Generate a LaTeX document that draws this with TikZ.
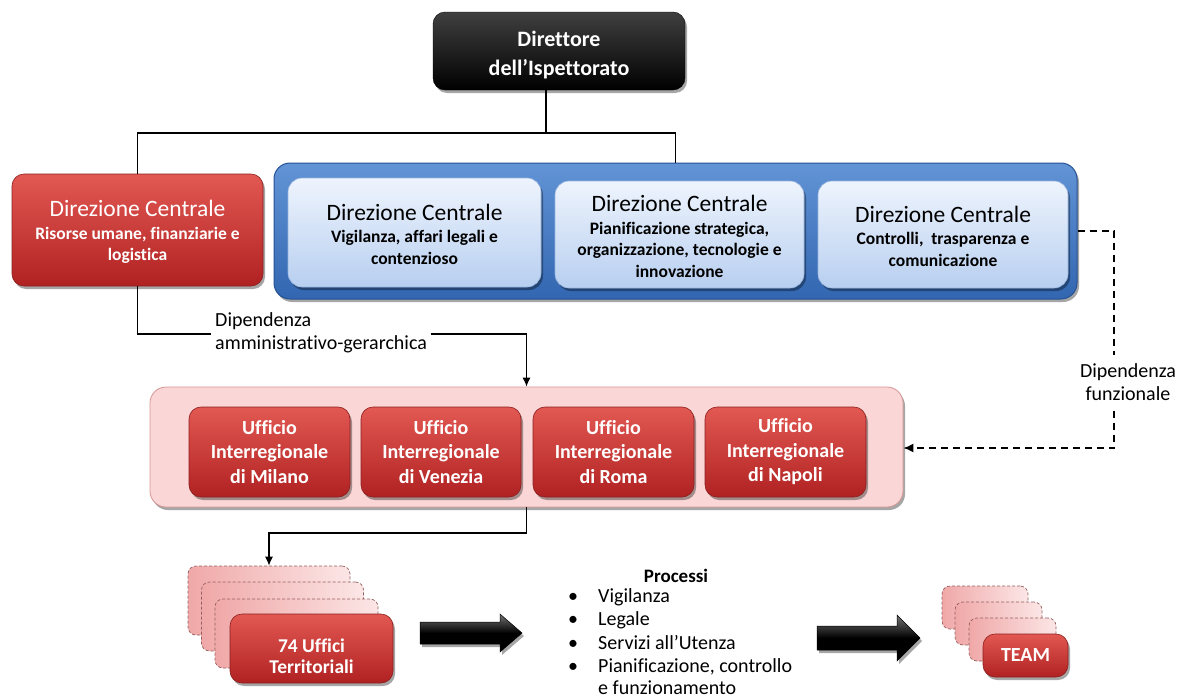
\documentclass[tikz,border=0pt]{standalone}
\usepackage{fontspec}
\setmainfont{Carlito}[Ligatures=NoCommon]
\usetikzlibrary{shadows,arrows.meta,calc}

\definecolor{redtop}{RGB}{226,88,82}
\definecolor{redbot}{RGB}{176,34,34}
\definecolor{redline}{RGB}{140,30,30}
\definecolor{bluetop}{RGB}{98,148,214}
\definecolor{bluebot}{RGB}{50,102,176}
\definecolor{blueline}{RGB}{38,82,148}
\definecolor{lbtop}{RGB}{238,244,253}
\definecolor{lbbot}{RGB}{184,207,240}
\definecolor{lbline}{RGB}{150,180,222}
\definecolor{pinkfill}{RGB}{250,214,214}
\definecolor{pinkline}{RGB}{215,150,150}
\definecolor{dashL}{RGB}{240,168,168}
\definecolor{dashR}{RGB}{252,230,230}
\definecolor{dashline}{RGB}{150,95,95}

\newcommand{\dctitle}{{\fontsize{23.5}{27}\selectfont\mdseries Direzione Centrale}}

\begin{document}
\begin{tikzpicture}[x=1pt,y=-1pt,
  shadowed/.style={drop shadow={shadow xshift=2pt,shadow yshift=-3pt,opacity=0.35,fill=black}},
  dirbox/.style={shadowed,rounded corners=12pt,top color=black!75,bottom color=black,draw=black,inner sep=0pt},
  redbox/.style={shadowed,rounded corners=12pt,top color=redtop,bottom color=redbot,draw=redline,line width=0.6pt,inner sep=0pt,
     text=white,align=center},
  bluecont/.style={shadowed,rounded corners=16pt,top color=bluetop,bottom color=bluebot,draw=blueline,line width=1pt,inner sep=0pt},
  lbbox/.style={shadowed,rounded corners=14pt,top color=lbtop,bottom color=lbbot,draw=lbline,line width=0.6pt,inner sep=0pt,
     text=black,align=center},
  pinkcont/.style={shadowed,rounded corners=16pt,fill=pinkfill,draw=pinkline,line width=0.8pt,inner sep=0pt},
  dashbox/.style={rounded corners=8pt,left color=dashL,right color=dashR,draw=dashline,dash pattern=on 3pt off 2pt,line width=0.7pt,inner sep=0pt},
  dctext/.style={align=center,inner sep=0pt,font=\fontsize{17.5}{21.5}\selectfont\bfseries},
  uffont/.style={font=\fontsize{20}{24.5}\selectfont\bfseries},
  lbl/.style={font=\fontsize{20}{23}\selectfont,text=black},
  conn/.style={draw=black,line width=1.1pt},
  tipA/.style={-{Latex[length=9pt,width=8pt]}},
  dashconn/.style={draw=black,line width=1.6pt,dash pattern=on 7pt off 5pt},
  bigarrow/.style={top color=black!55,bottom color=black,middle color=black,draw=black,line width=0.5pt,shadowed}
]
\fill[white] (0,0) rectangle (1181,699);
\useasboundingbox (0,0) rectangle (1181,699);

% Director
\node[dirbox,minimum width=252pt,minimum height=78pt] (dir) at (559,51) {};
\node[text=white,align=center,inner sep=0pt,font=\fontsize{22}{29}\selectfont\bfseries] (dirt) at (559,55) {Direttore\\dell'Ispettorato};

% Direzioni centrali
\node[redbox,minimum width=251pt,minimum height=112pt] (red) at (137.5,230) {};
\node[dctext,text=white] (redt) at (137.5,232) {\dctitle\\[1pt]Risorse umane, finanziarie e\\logistica};

\node[bluecont,minimum width=803pt,minimum height=136pt] (blue) at (675.5,231) {};
\node[lbbox,minimum width=253pt,minimum height=109pt] (b1) at (414.5,232.5) {};
\node[lbbox,minimum width=249pt,minimum height=107pt] (b2) at (679.5,234.5) {};
\node[lbbox,minimum width=250pt,minimum height=107pt] (b3) at (943,234.5) {};
\node[dctext] (b1t) at (414.5,234) {\dctitle\\[1pt]Vigilanza, affari legali e\\contenzioso};
\node[dctext] (b2t) at (679.5,236.5) {\dctitle\\[1pt]Pianificazione strategica,\\organizzazione, tecnologie e\\innovazione};
\node[dctext] (b3t) at (943,236) {\dctitle\\[1pt]Controlli,~ trasparenza e\\comunicazione};

% Connectors from director
\coordinate (jd) at (546,133);
\draw[conn] (jd |- dir.south) -- (jd);
\draw[conn] (red.north) |- (jd) -| (blue.north);

% Uffici interregionali
\node[pinkcont,minimum width=753pt,minimum height=120pt] (pink) at (526.5,447) {};
\node[redbox,uffont,minimum width=161pt,minimum height=90pt] (u1) at (269.5,452) {Ufficio\\Interregionale\\di Milano};
\node[redbox,uffont,minimum width=160pt,minimum height=90pt] (u2) at (441,452) {Ufficio\\Interregionale\\di Venezia};
\node[redbox,uffont,minimum width=161pt,minimum height=90pt] (u3) at (613.5,452) {Ufficio\\Interregionale\\di Roma};
\node[redbox,uffont,minimum width=161pt,minimum height=90pt] (u4) at (785.5,452) {Ufficio\\Interregionale\\di Napoli};

% Hierarchical dependency
\coordinate (h1) at (526.5,334);
\draw[conn,tipA] (red.south) |- (h1) -- (pink.north);
\node[lbl,anchor=west,align=left,fill=white,inner xsep=4pt,inner ysep=1pt] (hl) at (211,333) {Dipendenza\\amministrativo-gerarchica};

% Functional dependency
\coordinate (f1) at (1114,231);
\coordinate (f2) at (1114,448);
\draw[dashconn,-{Latex[length=10pt,width=9pt]}] (blue.east |- f1) -- (f1) -- (f2) -- (pink.east |- f2);
\node[lbl,align=center,fill=white,inner xsep=2pt,inner ysep=8pt] (fl) at (1128,382) {Dipendenza\\funzionale};

% 74 uffici stack
\node[dashbox,minimum width=162pt,minimum height=69pt] (sa) at (269,600.5) {};
\node[dashbox,minimum width=162pt,minimum height=69pt] (sb) at (282.5,616.5) {};
\node[dashbox,minimum width=163pt,minimum height=69pt] (sc) at (296.5,633.5) {};
\node[redbox,minimum width=163pt,minimum height=69pt] (s74) at (311.5,648.5) {};
\node[align=center,text=white,inner sep=0pt,font=\fontsize{19.5}{21}\selectfont\bfseries] (t74) at (311.5,656) {74 Uffici\\Territoriali};

\coordinate (s1) at (526.5,533);
\draw[conn,tipA] (pink.south) -- (s1) -| (sa.north);

% Big block arrows
\coordinate (ar1) at (420,633);
\path[bigarrow] (ar1) ++(0,-11) -- ++(80,0) -- ++(0,-8) -- ++(22,19) -- ++(-22,19) -- ++(0,-8) -- ++(-80,0) -- cycle;
\coordinate (ar2) at (817,638);
\path[bigarrow] (ar2) ++(0,-12) -- ++(80,0) -- ++(0,-11) -- ++(23,23) -- ++(-23,23) -- ++(0,-11) -- ++(-80,0) -- cycle;

% Processi
\node[inner sep=0pt,anchor=base,font=\fontsize{19}{23}\selectfont\bfseries] (proc) at (676,582) {Processi};
\foreach \i/\yy/\t in {1/602/Vigilanza,2/625.5/Legale,3/649/Servizi all’Utenza,4/672.5/{Pianificazione, controllo}}{
  \node[inner sep=0pt,anchor=base,lbl] (pb\i) at (573,\yy) {•};
  \node[inner sep=0pt,anchor=base west,lbl] (pt\i) at (598,\yy) {\t};
}
\node[inner sep=0pt,anchor=base west,lbl] (pt5) at (598,694.5) {e funzionamento};

% TEAM stack
\node[dashbox,minimum width=86pt,minimum height=43pt] (ta) at (985,607.5) {};
\node[dashbox,minimum width=87pt,minimum height=43pt] (tb) at (998.5,623.5) {};
\node[dashbox,minimum width=87pt,minimum height=43pt] (tc) at (1012.5,639.5) {};
\node[redbox,minimum width=85pt,minimum height=43pt,font=\fontsize{20}{24}\selectfont\bfseries] (team) at (1025.5,655.5) {TEAM};
\end{tikzpicture}
\end{document}
